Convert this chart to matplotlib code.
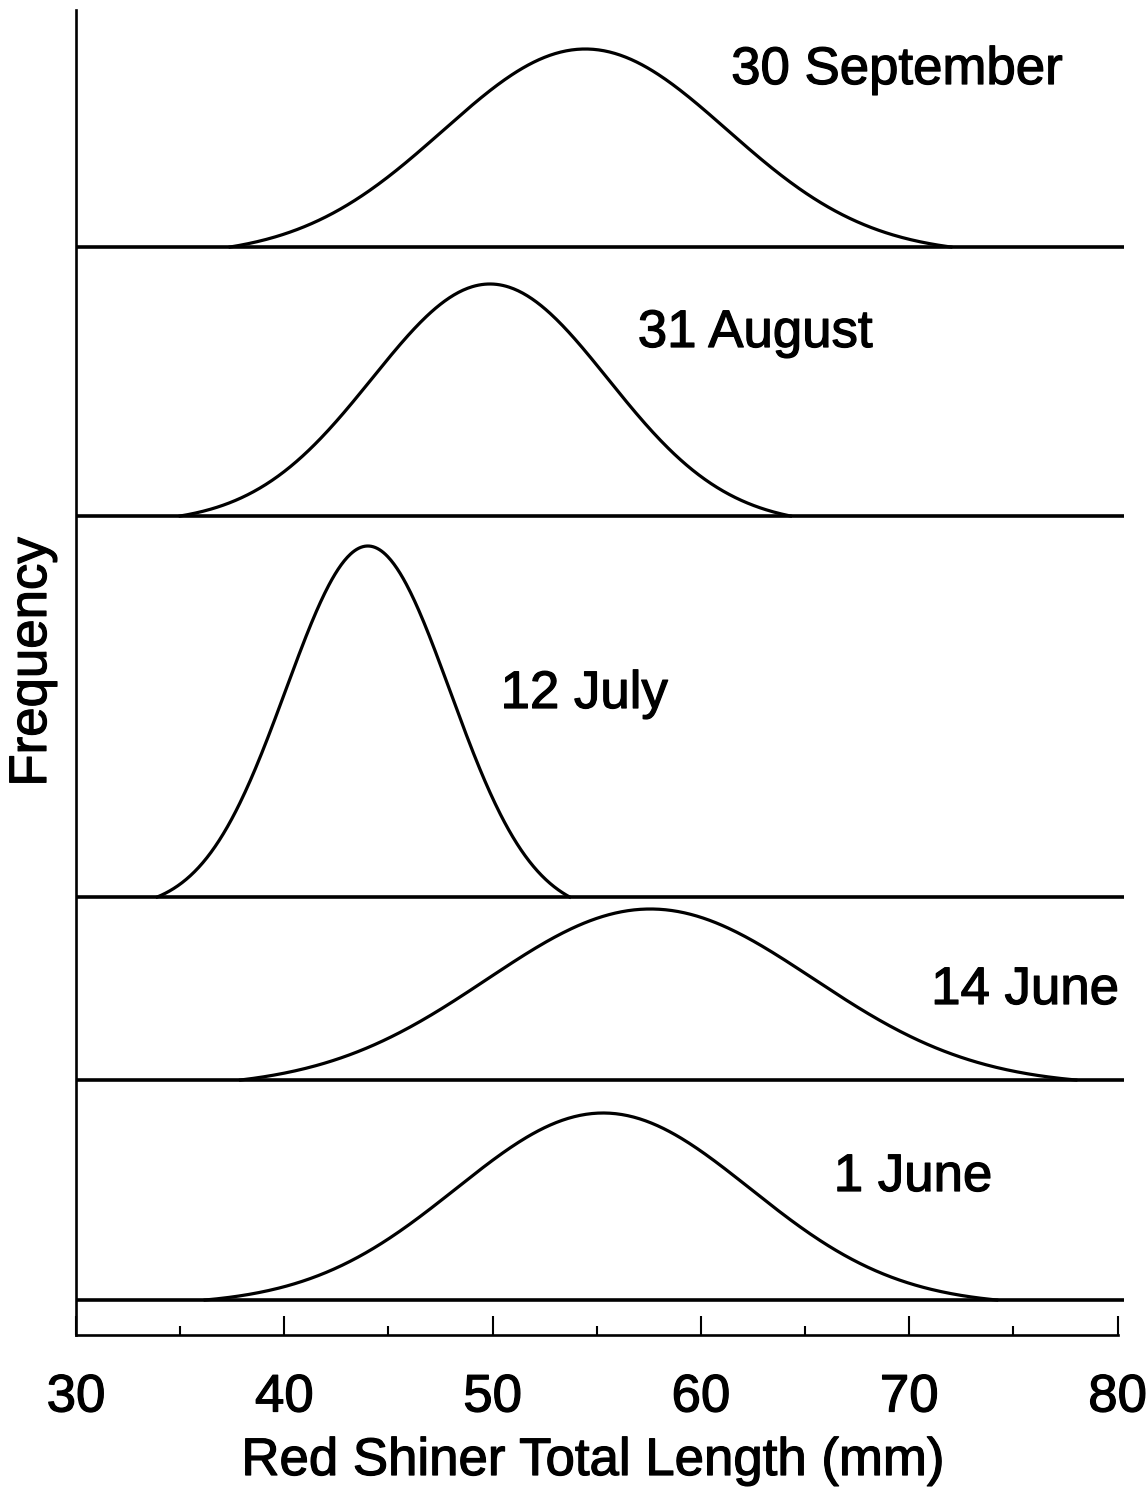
import numpy as np
import matplotlib
matplotlib.use("Agg")
import matplotlib.pyplot as plt
import matplotlib.patheffects as pe

# ---------------- data ----------------
dates = ["1 June", "14 June", "12 July", "31 August", "30 September"]
mean_mm = [55.31, 57.56, 44.02, 49.88, 54.44]      # centre of each fitted curve
sd_mm = [7.06, 7.83, 3.94, 5.66, 6.82]             # spread of each curve
peak_height = [187, 171, 351, 232, 198]            # relative frequency at peak
start_mm = [36.2, 37.9, 33.9, 35.0, 37.4]          # where each curve leaves its baseline
end_mm = [74.2, 78.0, 53.7, 64.3, 72.0]            # where each curve returns to baseline
baseline_offset = [35, 255, 438, 819, 1088]        # vertical offset of each ridge

xticks_major = [30, 40, 50, 60, 70, 80]
xtick_labels = ["30", "40", "50", "60", "70", "80"]
xticks_minor = [35, 45, 55, 65, 75]

xlabel_text = "Red Shiner Total Length (mm)"
ylabel_text = "Frequency"

# ---------------- layout ----------------
W, H = 1148, 1500
FONT = "Liberation Sans"
FS = 38
label_pos = [(70.18, 144), (75.56, 331), (54.39, 627), (62.60, 988), (69.41, 1251)]
thick = [pe.withStroke(linewidth=0.9, foreground="black")]

plt.rcParams["font.family"] = [FONT, "DejaVu Sans"]

fig = plt.figure(figsize=(W / 100, H / 100), dpi=100)
fig.patch.set_facecolor("white")
ax = fig.add_axes([76 / W, 165 / H, 1041.5 / W, 1325 / H])
ax.set_xlim(30, 80)
ax.set_ylim(0, 1325)
ax.set_facecolor("white")

for s in ["top", "right"]:
    ax.spines[s].set_visible(False)
for s in ["left", "bottom"]:
    ax.spines[s].set_linewidth(1.9)
    ax.spines[s].set_color("black")

ax.set_yticks([])
ax.set_xticks(xticks_major)
ax.set_xticklabels(xtick_labels, fontsize=FS)
ax.set_xticks(xticks_minor, minor=True)
ax.tick_params(axis="x", which="major", direction="in", length=13.5, width=1.5, pad=27)
ax.tick_params(axis="x", which="minor", direction="in", length=6.5, width=1.5)
for t in ax.get_xticklabels():
    t.set_path_effects(thick)

for i, name in enumerate(dates):
    b = baseline_offset[i]
    ax.plot([30, 80.3], [b, b], color="black", lw=2.6, solid_capstyle="butt",
            clip_on=False, zorder=3)
    x = np.linspace(start_mm[i], end_mm[i], 400)
    g = np.exp(-0.5 * ((x - mean_mm[i]) / sd_mm[i]) ** 2)
    c = g[0] + (g[-1] - g[0]) * (x - x[0]) / (x[-1] - x[0])
    h = (g - c)
    h = peak_height[i] * h / h.max()
    ax.plot(x, b + h, color="black", lw=2.3, solid_joinstyle="round", zorder=4)
    lx, ly = label_pos[i]
    ax.text(lx, ly, name, fontsize=FS, ha="center", va="baseline", color="black",
            path_effects=thick)

fig.text(592.5 / W, 1 - 1475 / H, xlabel_text, fontsize=FS, ha="center", va="baseline",
         path_effects=thick)
fig.text(32 / W, 1 - 662 / H, ylabel_text, fontsize=FS, ha="center", va="center",
         rotation=90, path_effects=thick)

fig.savefig("out.png", dpi=100, facecolor="white")
